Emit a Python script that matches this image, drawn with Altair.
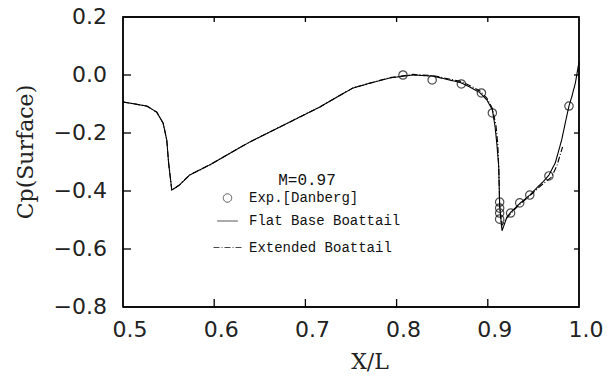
import altair as alt
import pandas as pd

# ---- data ----
flat_x = [0.500, 0.526, 0.537, 0.544, 0.548, 0.550, 0.5535, 0.562, 0.573, 0.595,
          0.639, 0.683, 0.716, 0.752, 0.771, 0.793, 0.818, 0.840, 0.855, 0.870,
          0.880, 0.891, 0.899, 0.905, 0.908, 0.910, 0.912, 0.913, 0.9156, 0.921,
          0.925, 0.935, 0.946, 0.955, 0.961, 0.967, 0.974, 0.981, 0.986, 0.989,
          0.992, 0.996, 1.000]
flat_y = [-0.093, -0.107, -0.128, -0.166, -0.224, -0.303, -0.397, -0.379, -0.345, -0.310,
          -0.231, -0.162, -0.110, -0.045, -0.028, -0.010, 0.000, -0.004, -0.015, -0.026,
          -0.041, -0.060, -0.086, -0.120, -0.179, -0.240, -0.317, -0.450, -0.537, -0.490,
          -0.474, -0.443, -0.414, -0.385, -0.367, -0.345, -0.303, -0.224, -0.150, -0.107,
          -0.076, -0.028, 0.045]

ext_x = [0.500, 0.526, 0.537, 0.544, 0.548, 0.550, 0.5535, 0.562, 0.573, 0.595,
         0.639, 0.683, 0.716, 0.752, 0.771, 0.793, 0.818, 0.840, 0.855, 0.870,
         0.880, 0.891, 0.899, 0.905, 0.909, 0.911, 0.912, 0.913, 0.915, 0.921,
         0.925, 0.935, 0.946, 0.958, 0.970, 0.976, 0.982]
ext_y = [-0.093, -0.107, -0.128, -0.166, -0.224, -0.303, -0.397, -0.379, -0.345, -0.310,
         -0.231, -0.162, -0.110, -0.045, -0.028, -0.009, 0.002, -0.002, -0.012, -0.022,
         -0.036, -0.054, -0.080, -0.115, -0.175, -0.240, -0.320, -0.450, -0.520, -0.492,
         -0.478, -0.446, -0.417, -0.382, -0.352, -0.310, -0.248]

exp_x = [0.807, 0.839, 0.871, 0.893, 0.905, 0.913, 0.913, 0.913, 0.913, 0.925,
         0.935, 0.946, 0.967, 0.989]
exp_y = [0.000, -0.017, -0.031, -0.062, -0.131, -0.438, -0.459, -0.476, -0.497, -0.476,
         -0.441, -0.414, -0.348, -0.107]

series_names = ["Exp.[Danberg]", "Flat Base Boattail", "Extended Boattail"]
x_ticks = [0.5, 0.6, 0.7, 0.8, 0.9, 1.0]
y_ticks = [-0.8, -0.6, -0.4, -0.2, 0.0, 0.2]
x_title = "X/L"
y_title = "Cp(Surface)"

W, H = 456, 290
X0, X1 = x_ticks[0], x_ticks[-1]
Y0, Y1 = y_ticks[0], y_ticks[-1]


def fmt(v):
    return f"{v:.1f}".replace("-", "\u2212")


lines_df = pd.DataFrame({
    "x": flat_x + ext_x,
    "y": flat_y + ext_y,
    "series": [series_names[1]] * len(flat_x) + [series_names[2]] * len(ext_x),
    "order": list(range(len(flat_x))) + list(range(len(ext_x))),
})
exp_df = pd.DataFrame({"x": exp_x, "y": exp_y, "series": [series_names[0]] * len(exp_x)})
xt_df = pd.DataFrame({"t": x_ticks, "lab": [fmt(v) for v in x_ticks]})
yt_df = pd.DataFrame({"t": y_ticks, "lab": [fmt(v) for v in y_ticks]})

# frame and inward tick segments, built from the axis ranges and tick values
px_x = (X1 - X0) / W   # data units per pixel
px_y = (Y1 - Y0) / H
seg_rows = []
frame_pts = [(X0, Y0), (X1, Y0), (X1, Y1), (X0, Y1), (X0, Y0)]
for i, (a, b) in enumerate(frame_pts):
    seg_rows.append({"seg": "frame", "o": i, "x": a, "y": b, "w": 1.5})
for t in y_ticks[1:-1]:
    seg_rows += [{"seg": f"L{t}", "o": 0, "x": X0, "y": t, "w": 1},
                 {"seg": f"L{t}", "o": 1, "x": X0 + 8 * px_x, "y": t, "w": 1},
                 {"seg": f"R{t}", "o": 0, "x": X1, "y": t, "w": 1},
                 {"seg": f"R{t}", "o": 1, "x": X1 - 5 * px_x, "y": t, "w": 1}]
for t in x_ticks[1:-1]:
    seg_rows += [{"seg": f"B{t}", "o": 0, "x": t, "y": Y0, "w": 1},
                 {"seg": f"B{t}", "o": 1, "x": t, "y": Y0 + 8 * px_y, "w": 1},
                 {"seg": f"T{t}", "o": 0, "x": t, "y": Y1, "w": 1},
                 {"seg": f"T{t}", "o": 1, "x": t, "y": Y1 - 5 * px_y, "w": 1}]
seg_df = pd.DataFrame(seg_rows)

xscale = alt.Scale(domain=[X0, X1], nice=False, zero=False)
yscale = alt.Scale(domain=[Y0, Y1], nice=False, zero=False)

LABEL_FONT = "DejaVu Sans"
TITLE_FONT = "DejaVu Serif"
LEG_FONT = "Liberation Mono"


def make_legend():
    return alt.Legend(
        title="M=0.97", orient="none", legendX=90, legendY=155,
        titleFont=LEG_FONT, titleFontSize=16, titleFontWeight="normal",
        titleAnchor="middle", titleColor="#111", titlePadding=3,
        labelFont=LEG_FONT, labelFontSize=14, labelColor="#111", labelOffset=7,
        symbolStrokeColor="black", symbolStrokeWidth=1, symbolFillColor="white",
        rowPadding=5, padding=0, labelLimit=300,
    )


shape_scale = alt.Scale(domain=series_names, range=["circle", "stroke", "stroke"])
size_scale = alt.Scale(domain=series_names, range=[70, 784, 784])
dash_scale = alt.Scale(domain=series_names, range=[[1, 0], [1, 0], [6, 2, 1, 2]])

frame = alt.Chart(seg_df).mark_line(color="black", strokeWidth=1.3).encode(
    x=alt.X("x:Q", scale=xscale, axis=None),
    y=alt.Y("y:Q", scale=yscale, axis=None),
    detail="seg:N",
    order="o:Q",
)

lines = alt.Chart(lines_df).mark_line(color="black", strokeWidth=1.1).encode(
    x=alt.X("x:Q", scale=xscale, axis=None),
    y=alt.Y("y:Q", scale=yscale, axis=None),
    strokeDash=alt.StrokeDash("series:N", scale=dash_scale, legend=make_legend()),
    order="order:Q",
)

points = alt.Chart(exp_df).mark_point(filled=False, color="black", strokeWidth=1.2).encode(
    x=alt.X("x:Q", scale=xscale, axis=None),
    y=alt.Y("y:Q", scale=yscale, axis=None),
    shape=alt.Shape("series:N", scale=shape_scale, legend=make_legend()),
    size=alt.Size("series:N", scale=size_scale, legend=make_legend()),
)

# tick labels, placed through the scales
x_labels = alt.Chart(xt_df).mark_text(
    font=LABEL_FONT, fontSize=22, color="#222", align="center", baseline="middle",
    dx=7, dy=23,
).encode(
    x=alt.X("t:Q", scale=xscale, axis=None),
    y=alt.datum(Y0, scale=yscale, axis=None),
    text="lab:N",
)
y_labels = alt.Chart(yt_df).mark_text(
    font=LABEL_FONT, fontSize=22, color="#222", align="right", baseline="middle",
    dx=-16, dy=0,
).encode(
    x=alt.datum(X0, scale=xscale, axis=None),
    y=alt.Y("t:Q", scale=yscale, axis=None),
    text="lab:N",
)

# axis titles
x_title_mark = alt.Chart(pd.DataFrame({"lab": [x_title]})).mark_text(
    font=TITLE_FONT, fontSize=22, color="#222", align="center", baseline="middle",
).encode(x=alt.value(W / 2 + 19), y=alt.value(H + 55), text="lab:N")
y_title_mark = alt.Chart(pd.DataFrame({"lab": [y_title]})).mark_text(
    font=TITLE_FONT, fontSize=22, color="#222", align="center", baseline="middle",
    angle=270,
).encode(x=alt.value(-97), y=alt.value(135), text="lab:N")

chart = alt.layer(frame, lines, points, x_labels, y_labels, x_title_mark, y_title_mark).properties(
    width=W, height=H,
    autosize=alt.AutoSizeParams(type="none"),
    padding={"left": 115, "top": 9, "right": 24, "bottom": 67},
    background="white",
).configure_view(
    stroke="black", strokeWidth=1.5
)

chart.save("out.html", embed_options={"renderer": "svg", "actions": False})
